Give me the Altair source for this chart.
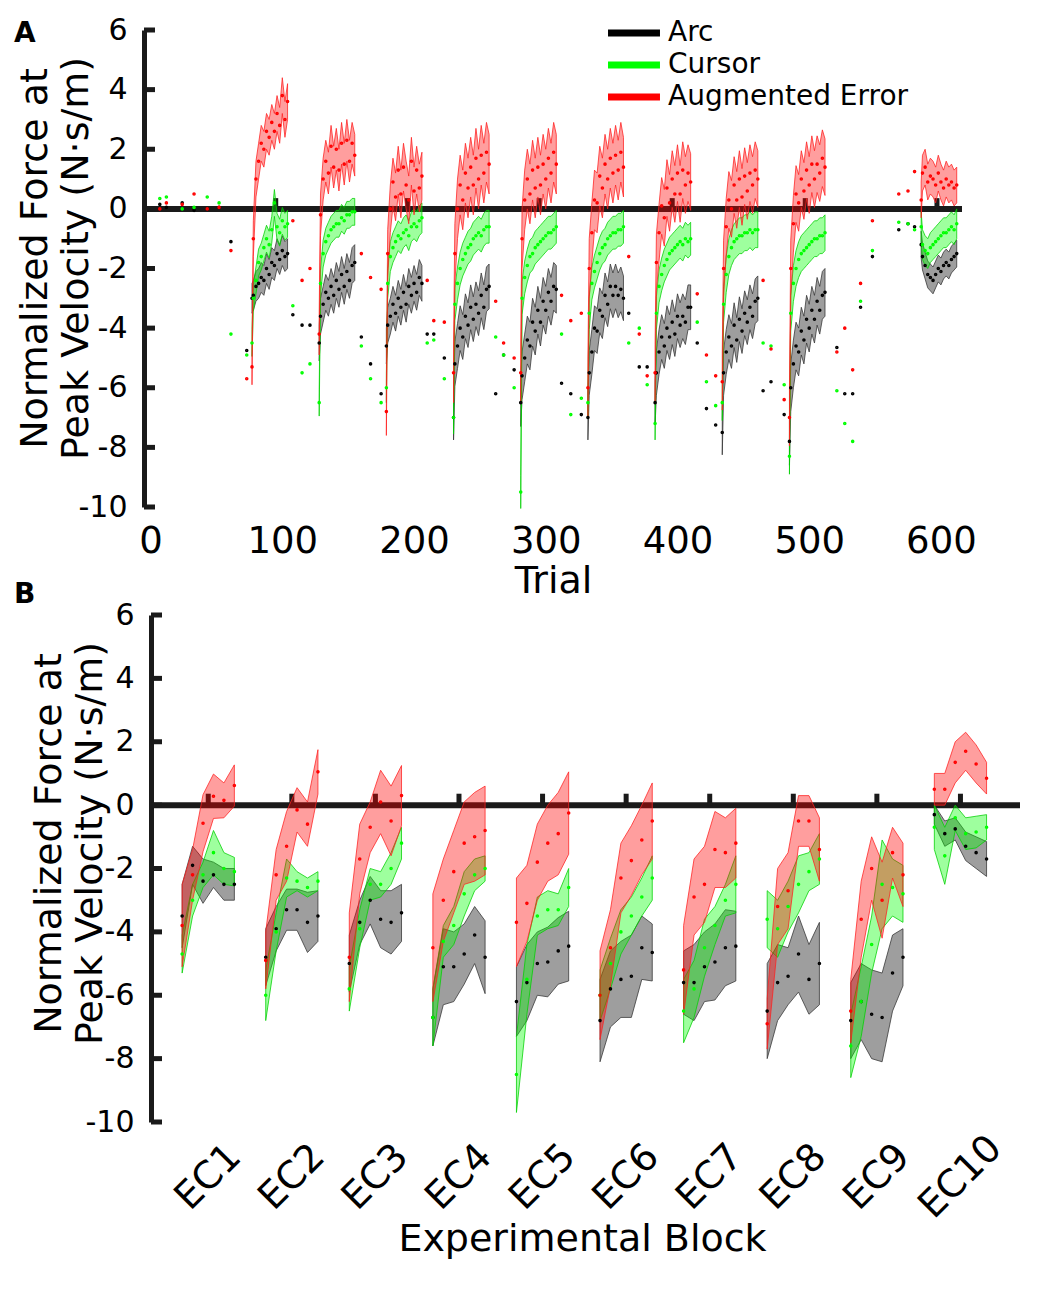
import json
import altair as alt
import pandas as pd

FONT = "DejaVu Sans"
CONDS = ["Arc", "Cursor", "Augmented Error"]
DOT_COLORS = ["#000000", "#00ff00", "#ff0000"]
FILL = {"Arc": "#000000", "Cursor": "#00ff00", "Augmented Error": "#ff0000"}
EDGE = {"Arc": "#333333", "Cursor": "#00d000", "Augmented Error": "#ff2020"}
YTICKS = [-10, -8, -6, -4, -2, 0, 2, 4, 6]

# ---------------- Panel A data ----------------
BLOCK_START = [77, 128, 179, 230, 281, 332, 383, 434, 485, 585]
OFFS = [0, 1, 3, 5, 7, 9, 11, 13, 15, 17, 19, 21, 23, 25, 27]

A_ARC = [
    [-3.0, -2.9, -2.6, -2.5, -2.3, -2.4, -2.0, -2.2, -1.8, -1.9, -1.5, -1.7, -1.4, -1.6, -1.5],
    [-4.5, -3.6, -3.2, -2.8, -3.0, -2.6, -2.9, -2.4, -2.7, -2.2, -2.6, -2.1, -2.4, -1.9, -1.8],
    [-4.6, -3.9, -3.6, -3.2, -3.5, -3.0, -3.3, -2.8, -3.2, -2.6, -2.9, -2.5, -2.8, -2.3, -2.5],
    [-7.0, -5.2, -4.6, -4.0, -4.3, -3.6, -3.9, -3.3, -3.7, -3.2, -3.5, -2.9, -3.3, -2.7, -2.6],
    [-6.5, -5.6, -5.0, -4.4, -4.6, -3.8, -4.1, -3.4, -3.8, -3.1, -3.4, -2.8, -3.1, -2.6, -2.7],
    [-7.0, -5.5, -4.8, -4.0, -4.1, -3.4, -3.6, -2.9, -3.2, -2.6, -2.9, -2.6, -2.9, -2.7, -3.0],
    [-6.5, -5.5, -4.8, -4.3, -4.6, -4.0, -4.3, -3.8, -4.2, -3.6, -3.9, -3.6, -3.8, -3.3, -3.3],
    [-7.5, -5.5, -4.8, -4.3, -4.6, -3.9, -4.4, -3.7, -4.1, -3.5, -3.8, -3.3, -3.6, -3.1, -3.0],
    [-7.8, -6.0, -5.2, -4.6, -4.8, -4.1, -4.4, -3.7, -4.0, -3.4, -3.7, -3.1, -3.4, -2.9, -2.8],
    [-1.2, -1.6, -1.9, -2.2, -2.3, -2.4, -2.2, -2.0, -2.1, -1.9, -1.8, -1.9, -1.7, -1.6, -1.5],
]
A_CUR = [
    [-4.5, -3.0, -2.4, -1.8, -1.6, -1.3, -1.0, -1.2, -0.7, 0.2, -0.6, -0.8, -0.4, -0.6, -0.5],
    [-6.5, -2.5, -1.5, -1.1, -0.9, -0.7, -0.6, -0.5, -0.5, -0.3, -0.4, -0.2, -0.2, -0.1, -0.1],
    [-6.0, -2.5, -1.6, -1.3, -1.1, -0.9, -1.0, -0.8, -0.7, -0.9, -0.6, -0.5, -0.6, -0.4, -0.3],
    [-7.0, -3.2, -2.5, -2.0, -1.7, -1.5, -1.3, -1.2, -1.0, -0.9, -0.8, -0.9, -0.7, -0.6, -0.6],
    [-9.5, -3.0, -2.3, -1.9, -1.6, -1.5, -1.3, -1.2, -1.1, -1.0, -0.9, -0.8, -0.8, -0.7, -0.6],
    [-6.5, -3.5, -2.5, -2.1, -1.8, -1.5, -1.3, -1.2, -1.0, -0.9, -0.8, -0.8, -0.7, -0.7, -0.6],
    [-7.2, -3.5, -2.6, -2.2, -1.9, -1.7, -1.5, -1.4, -1.3, -1.2, -1.1, -1.2, -1.0, -1.1, -1.0],
    [-6.5, -3.2, -2.2, -1.6, -1.3, -1.1, -1.0, -0.9, -0.9, -0.8, -0.8, -0.7, -0.8, -0.7, -0.7],
    [-8.3, -3.5, -2.5, -2.0, -1.7, -1.5, -1.4, -1.3, -1.2, -1.1, -1.0, -1.0, -0.9, -0.9, -0.8],
    [-0.6, -1.2, -1.4, -1.5, -1.3, -1.2, -1.1, -1.0, -0.9, -0.8, -0.8, -0.7, -0.6, -0.7, -0.5],
]
A_AE = [
    [-5.3, -1.0, 1.0, 1.6, 2.2, 2.0, 2.6, 2.4, 2.9, 2.6, 3.2, 2.8, 3.8, 3.0, 3.6],
    [-4.2, -0.2, 1.0, 1.6, 1.2, 2.1, 1.4, 2.0, 1.3, 2.2, 1.5, 2.3, 1.6, 2.2, 1.8],
    [-6.8, -1.5, 0.0, 0.9, 0.4, 1.3, 0.5, 1.4, 0.8, 0.3, 1.6, 0.6, 1.3, 0.7, 1.1],
    [-5.5, -1.5, 0.0, 0.8, 0.3, 1.2, 0.7, 1.4, 0.8, 1.7, 1.0, 1.8, 1.2, 1.9, 1.5],
    [-5.5, -1.0, 0.3, 1.0, 0.5, 1.3, 0.7, 1.4, 0.8, 1.5, 1.0, 1.7, 1.2, 1.9, 1.5],
    [-6.0, -2.0, -0.8, 0.3, 0.2, 1.1, 0.7, 1.5, 1.0, 1.7, 1.2, 1.8, 1.3, 1.9, 1.4],
    [-5.5, -1.8, -0.8, 0.1, -0.3, 0.7, 0.2, 1.0, 0.5, 1.2, 0.5, 1.3, 0.8, 1.2, 0.9],
    [-5.8, -2.0, -0.6, 0.3, 0.0, 0.8, 0.3, 1.0, 0.4, 1.1, 0.6, 1.2, 0.8, 1.3, 1.0],
    [-7.0, -2.0, -0.5, 0.5, 0.2, 1.0, 0.6, 1.3, 0.8, 1.5, 1.0, 1.5, 1.2, 1.7, 1.4],
    [0.3, 1.2, 1.4, 0.9, 1.1, 1.0, 0.8, 1.2, 0.9, 0.7, 1.0, 0.8, 0.9, 0.7, 0.8],
]
A_ARC_HW = [0.5, 0.6, 0.6, 0.75, 0.8, 0.75, 0.75, 0.75, 0.8, 0.45]
A_CUR_HW = [0.45, 0.45, 0.5, 0.55, 0.55, 0.55, 0.55, 0.6, 0.6, 0.5]
A_AE_HW = [0.6, 0.7, 0.8, 1.0, 1.0, 1.0, 0.95, 0.95, 0.95, 0.6]

EC_T = [7, 12, 24, 33, 43, 52, 61, 73, 108, 115, 121, 160, 167, 175, 210, 215, 223,
        262, 268, 276, 312, 319, 327, 363, 371, 377, 415, 422, 429, 465, 471, 481,
        521, 527, 533, 539, 548, 568, 575, 580]
EC_ARC = [0.15, 0.05, 0.2, -0.05, 0.0, 0.05, -1.1, -4.75, -3.55, -3.9, -3.9, -4.3, -5.2, -6.2,
          -4.2, -4.2, -5.0, -6.2, -4.9, -5.4, -5.85, -6.2, -6.9, -3.5, -5.3, -5.3, -4.5, -6.7,
          -7.25, -6.1, -5.8, -6.9, -4.65, -6.2, -6.2, -3.3, -1.6, -0.7, -0.5, -0.6]
EC_CUR = [0.35, 0.4, 0.0, 0.05, 0.4, 0.2, -4.2, -4.9, -3.25, -5.5, -5.2, -4.6, -5.7, -6.5,
          -4.5, -4.4, -5.7, -4.3, -4.9, -6.0, -4.2, -6.9, -6.35, -4.5, -4.0, -5.9, -3.8, -5.8,
          -6.6, -4.5, -4.6, -5.9, -6.1, -7.2, -7.8, -3.1, -1.4, -0.45, -0.5, -0.7]
EC_AE = [0.0, 0.2, 0.15, 0.5, 0.0, 0.05, -1.4, -5.7, -0.4, -2.4, -2.0, -1.5, -2.3, -2.7,
         -2.4, -3.75, -3.8, -3.1, -4.5, -5.0, -2.9, -3.75, -3.5, -1.6, -4.2, -5.6, -2.85, -4.9,
         -5.6, -2.4, -4.7, -6.4, -4.8, -4.0, -5.4, -2.5, -0.4, 0.5, 0.6, 1.25]

A_XTICKS = [0, 100, 200, 300, 400, 500, 600]
A_ZERO_MARKS = [95, 195, 295, 396, 497, 597]
A_XDOM = [-5, 616]

# ---------------- Panel B data ----------------
EC_LABELS = ["EC1", "EC2", "EC3", "EC4", "EC5", "EC6", "EC7", "EC8", "EC9", "EC10"]
EC_CENTER = [8, 16, 24, 32, 40, 48, 56, 64, 72, 80]
EC_OFFS = [-2.5, -1.5, -0.5, 0.5, 1.5, 2.5]

B_ARC = [
    [-3.5, -1.9, -2.4, -2.2, -2.5, -2.5],
    [-4.8, -3.9, -3.3, -3.3, -3.7, -3.5],
    [-5.0, -3.7, -3.0, -3.6, -3.7, -3.4],
    [-6.7, -5.1, -5.1, -4.7, -4.1, -4.8],
    [-6.2, -5.6, -5.0, -4.95, -4.6, -4.45],
    [-6.8, -5.8, -5.5, -5.4, -4.5, -4.65],
    [-5.6, -5.6, -5.1, -4.95, -4.5, -4.45],
    [-6.5, -5.6, -5.4, -4.7, -5.5, -5.0],
    [-6.8, -6.2, -6.6, -6.7, -5.3, -4.8],
    [-0.3, -0.9, -0.75, -1.3, -1.5, -1.7],
]
B_ARC_HW = [
    [1.0, 0.6, 0.7, 0.4, 0.5, 0.5],
    [0.9, 0.7, 0.65, 0.65, 0.95, 0.8],
    [0.9, 0.7, 0.75, 0.9, 1.0, 0.9],
    [0.9, 1.2, 1.1, 0.95, 0.9, 1.15],
    [1.1, 1.2, 1.0, 1.1, 1.05, 1.1],
    [1.3, 1.2, 1.2, 1.3, 1.0, 0.9],
    [1.0, 1.2, 1.1, 1.2, 1.2, 1.1],
    [1.5, 1.2, 0.9, 1.2, 1.1, 1.3],
    [1.2, 1.2, 1.4, 1.4, 1.2, 0.9],
    [0.3, 0.4, 0.35, 0.45, 0.5, 0.55],
]
B_CUR = [
    [-4.7, -3.0, -2.2, -1.5, -2.0, -2.1],
    [-6.0, -4.0, -2.3, -2.4, -2.6, -2.4],
    [-5.8, -3.9, -2.5, -2.5, -2.0, -1.2],
    [-6.7, -4.3, -3.8, -2.8, -2.2, -2.0],
    [-8.5, -5.5, -3.5, -3.3, -3.3, -2.6],
    [-6.0, -5.0, -4.0, -3.5, -2.9, -2.3],
    [-6.5, -5.8, -4.5, -3.8, -3.0, -2.5],
    [-3.6, -3.9, -3.2, -2.5, -2.1, -1.7],
    [-7.6, -6.2, -4.4, -2.5, -2.6, -2.8],
    [-0.7, -1.6, -0.4, -0.9, -0.85, -0.7],
]
B_CUR_HW = [
    [0.6, 0.5, 0.4, 0.7, 0.5, 0.45],
    [0.8, 0.6, 0.6, 0.3, 0.3, 0.3],
    [0.7, 0.6, 0.5, 0.4, 0.5, 0.5],
    [0.9, 0.5, 0.6, 0.7, 0.5, 0.4],
    [1.2, 1.1, 0.6, 0.6, 0.5, 0.6],
    [0.8, 0.8, 0.7, 0.6, 0.6, 0.7],
    [1.0, 0.9, 0.9, 0.6, 0.5, 0.9],
    [0.9, 0.9, 0.8, 0.9, 0.6, 0.8],
    [1.0, 1.1, 0.9, 1.4, 0.9, 0.9],
    [0.7, 0.9, 0.4, 0.5, 0.5, 0.4],
]
B_AE = [
    [-3.8, -2.2, -0.57, 0.28, 0.15, 0.62],
    [-4.9, -2.2, -1.3, -0.15, -0.6, 1.05],
    [-4.8, -1.7, -0.7, 0.1, -0.5, 0.3],
    [-4.5, -3.0, -2.1, -1.2, -1.0, -0.8],
    [-3.7, -3.1, -1.8, -1.2, -0.9, -0.25],
    [-6.0, -4.5, -2.3, -1.75, -1.1, -0.5],
    [-5.2, -2.9, -2.5, -1.4, -1.5, -1.2],
    [-6.9, -3.2, -2.7, -0.5, -0.5, -1.4],
    [-6.5, -3.6, -2.0, -3.0, -1.5, -2.2],
    [0.5, 0.5, 1.35, 1.7, 1.3, 0.85],
]
B_AE_HW = [
    [1.3, 0.8, 0.9, 0.7, 0.55, 0.65],
    [0.9, 0.8, 1.1, 0.7, 0.7, 0.7],
    [1.4, 1.1, 0.8, 1.0, 1.1, 0.95],
    [1.7, 1.3, 1.3, 1.3, 1.4, 1.4],
    [1.4, 1.2, 1.2, 1.2, 1.3, 1.3],
    [1.4, 1.2, 1.1, 1.1, 1.1, 1.2],
    [1.4, 1.2, 1.2, 1.2, 1.1, 1.1],
    [0.8, 1.2, 1.2, 0.8, 0.8, 1.0],
    [1.0, 1.2, 1.0, 1.2, 0.8, 1.0],
    [0.5, 0.5, 0.65, 0.6, 0.6, 0.5],
]
B_XDOM = [1.85, 85.7]
B_ZERO_START = 2.55

# ---------------- tables ----------------
rows = []
for cond, means, hws in [("Arc", A_ARC, A_ARC_HW), ("Cursor", A_CUR, A_CUR_HW),
                         ("Augmented Error", A_AE, A_AE_HW)]:
    for b, start in enumerate(BLOCK_START):
        for off, m in zip(OFFS, means[b]):
            rows.append(dict(cond=cond, block=b, x=start + off, y=m,
                             lo=m - hws[b], hi=m + hws[b]))
bandA = pd.DataFrame(rows)
dotsA = pd.concat([
    bandA[["cond", "x", "y"]],
    pd.DataFrame({"cond": "Arc", "x": EC_T, "y": EC_ARC}),
    pd.DataFrame({"cond": "Cursor", "x": EC_T, "y": EC_CUR}),
    pd.DataFrame({"cond": "Augmented Error", "x": EC_T, "y": EC_AE}),
], ignore_index=True)

rows = []
for cond, means, hws in [("Arc", B_ARC, B_ARC_HW), ("Cursor", B_CUR, B_CUR_HW),
                         ("Augmented Error", B_AE, B_AE_HW)]:
    for b, c in enumerate(EC_CENTER):
        for j, off in enumerate(EC_OFFS):
            m = means[b][j]
            rows.append(dict(cond=cond, block=b, x=c + off, y=m,
                             lo=m - hws[b][j], hi=m + hws[b][j]))
bandB = pd.DataFrame(rows)
dotsB = bandB[["cond", "x", "y"]]

INK = "#1a1a1a"


def y_axis(offset):
    return alt.Axis(values=YTICKS, labelExpr="'' + datum.value", ticks=False, tickSize=0,
                    domain=True, domainWidth=5, domainColor=INK, grid=False, offset=offset,
                    labelFont=FONT, labelFontSize=30, labelColor="black", labelPadding=17,
                    title=["Normalized Force at", "Peak Velocity (N·s/m)"],
                    titleFont=FONT, titleFontSize=38, titleFontWeight="normal",
                    titleColor="black", titleLineHeight=41, titleX=-98 - offset, titleY=228,
                    titleBaseline="alphabetic", titleAngle=270)


AXIS_XA = alt.Axis(values=A_XTICKS, domain=False, ticks=False, tickSize=0, grid=False,
                   labelFont=FONT, labelFontSize=37, labelColor="black", labelPadding=16,
                   title="Trial", titleFont=FONT, titleFontSize=38, titleFontWeight="normal",
                   titleColor="black", titleY=55, titleBaseline="top")

label_expr_b = json.dumps(EC_LABELS) + "[indexof(" + json.dumps(EC_CENTER) + ", datum.value)]"
AXIS_XB = alt.Axis(values=EC_CENTER, labelExpr=label_expr_b, domain=False, ticks=False,
                   tickSize=0, grid=False, labelFont=FONT, labelFontSize=38,
                   labelColor="black", labelAngle=315, labelAlign="center",
                   labelBaseline="middle", labelPadding=55, labelOverlap=False,
                   title="Experimental Block", titleFont=FONT, titleFontSize=38,
                   titleFontWeight="normal", titleColor="black", titleY=98,
                   titleBaseline="top")


def panel(band, dots, xdom, xaxis, zero_start, zero_marks, width, height, letter,
          yaxis_offset, legend):
    xs = alt.Scale(domain=xdom, nice=False, zero=False)
    ys = alt.Scale(domain=[-10, 6], nice=False, zero=False)
    yax = y_axis(yaxis_offset)
    X = lambda f: alt.X(f, type="quantitative", scale=xs, axis=xaxis)
    Y = lambda f: alt.Y(f, type="quantitative", scale=ys, axis=yax)

    zero = alt.Chart(pd.DataFrame({"x": [zero_start], "x2": [xdom[1]], "y": [0]})).mark_rule(
        color=INK, strokeWidth=6).encode(x=X("x"), x2=alt.X2("x2"), y=Y("y"))
    marks = alt.Chart(pd.DataFrame({"x": zero_marks, "y": 0.0, "y2": 0.36})).mark_rule(
        color=INK, strokeWidth=5).encode(x=X("x"), y=Y("y"), y2=alt.Y2("y2"))
    yt = alt.Chart(pd.DataFrame({"y": YTICKS})).mark_rule(color=INK, strokeWidth=5).encode(
        y=Y("y"), x=alt.value(-yaxis_offset), x2=alt.value(-yaxis_offset + 11))
    bands = []
    for cond in CONDS:
        bands.append(
            alt.Chart(band).transform_filter(alt.datum.cond == cond).mark_area(
                fill=FILL[cond], fillOpacity=0.38, stroke=EDGE[cond], strokeWidth=0.9,
                strokeOpacity=0.85, interpolate="linear").encode(
                x=X("x"), y=Y("lo"), y2=alt.Y2("hi"), detail="block:N"))
    pts = alt.Chart(dots).mark_point(filled=False, size=4, strokeWidth=1.6, opacity=1,
                                     shape="circle").encode(
        x=X("x"), y=Y("y"),
        stroke=alt.Stroke("cond:N", scale=alt.Scale(domain=CONDS, range=DOT_COLORS),
                          legend=legend))
    txt = alt.Chart(pd.DataFrame({"t": [letter]})).mark_text(
        align="left", baseline="alphabetic", font=FONT, fontSize=28, fontWeight="bold",
        color="black").encode(x=alt.value(-130), y=alt.value(12 if letter == "A" else -12),
                              text="t:N")
    return alt.layer(zero, marks, *bands, pts, yt, txt).properties(width=width, height=height)


LEGEND = alt.Legend(title=None, orient="none", legendX=464, legendY=-11,
                    symbolType="M-3,0H3", symbolSize=300, symbolStrokeWidth=7,
                    symbolOffset=12, symbolOpacity=1, labelFont=FONT,
                    labelFontSize=28, labelColor="black", labelOffset=20, padding=0,
                    rowPadding=4, labelLimit=500)

A = panel(bandA, dotsA, A_XDOM, AXIS_XA, A_XDOM[0], A_ZERO_MARKS, 818, 477, "A", 0, LEGEND)
B = panel(bandB, dotsB, B_XDOM, AXIS_XB, B_ZERO_START, EC_CENTER, 876, 507, "B", -7, None)

chart = alt.vconcat(A, B, spacing=108, bounds="flush").resolve_scale(
    x="independent", y="independent", stroke="independent").resolve_legend(
    stroke="independent").properties(
    padding={"left": 6, "top": 7, "right": 5, "bottom": 5}).configure_view(stroke=None)

chart.save("out.html", embed_options={"renderer": "svg", "actions": False})
